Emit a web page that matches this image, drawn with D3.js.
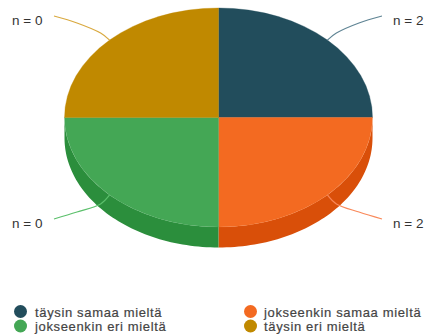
<!DOCTYPE html>
<html>
<head>
<meta charset="utf-8">
<script src="https://cdn.jsdelivr.net/npm/d3@7/dist/d3.min.js"></script>
<style>
html,body{margin:0;padding:0;background:#fff}
svg{display:block}
text{font-family:"Liberation Sans",Arial,sans-serif}
</style>
</head>
<body>
<script>
// Survey responses on a four-step agreement scale
const categories = ["täysin samaa mieltä", "jokseenkin samaa mieltä", "jokseenkin eri mieltä", "täysin eri mieltä"];
const sliceShares = [25, 25, 25, 25];
const counts = [2, 2, 0, 0];
const faceColors = ["#224d5c", "#f36a21", "#44a755", "#c08900"];
const wallColors = ["#163a47", "#d94f09", "#2b8e3c", "#a57500"];
const leaderColors = ["#5f8494", "#f9895a", "#5cc06c", "#d9a93f"];

const width = 425, height = 336;
const cx = 218.5, cy = 117.5, rx = 154, ry = 109.5, depth = 20.5;

const svg = d3.select("body").append("svg").attr("width", width).attr("height", height);

const slices = d3.pie().sort(null).value(d => d)(sliceShares);

// Projects an angle on the tilted disc into page coordinates
const px = a => cx + rx * Math.sin(a);
const py = a => cy - ry * Math.cos(a);

// Outer wall of the disc, visible only on the lower half
const wall = d3.area().x(px).y0(py).y1(a => py(a) + depth);
slices.forEach((s, i) => {
  const from = Math.max(s.startAngle, Math.PI / 2);
  const to = Math.min(s.endAngle, Math.PI * 1.5);
  if (from >= to) return;
  const steps = d3.range(0, 61).map(k => from + (to - from) * k / 60);
  svg.append("path").attr("d", wall(steps)).attr("fill", wallColors[i]);
});

// Top face: a circular pie squashed vertically, with a hairline stroke to close the seams
const arc = d3.arc().innerRadius(0).outerRadius(rx);
svg.append("g")
  .attr("transform", `translate(${cx},${cy}) scale(1,${ry / rx})`)
  .selectAll("path").data(slices).join("path")
  .attr("d", arc)
  .attr("fill", (d, i) => faceColors[i])
  .attr("stroke", (d, i) => faceColors[i])
  .attr("stroke-width", 0.4);

// Curved leaders from each slice to its count label
const side = [1, 1, -1, -1];
const rowY = [16, 219, 219, 16];
const leaderEndX = [382, 382, 54, 54];
const labelX = [393, 393, 12, 12];
const baselineY = [25, 228, 228, 25];
const leaderPath = d3.line().curve(d3.curveCatmullRom);
slices.forEach((s, i) => {
  const mid = (s.startAngle + s.endAngle) / 2;
  const x0 = px(mid), y0 = py(mid), dir = side[i], ly = rowY[i];
  const up = ly < cy;
  svg.append("path")
    .attr("d", leaderPath([
      [x0, y0],
      [x0 + dir * 9, y0 + (up ? -7 : 9)],
      [leaderEndX[i] - dir * 23, ly + (up ? 7 : -7)],
      [leaderEndX[i], ly]
    ]))
    .attr("fill", "none")
    .attr("stroke", leaderColors[i])
    .attr("stroke-width", 1.2);
  svg.append("text")
    .attr("x", labelX[i])
    .attr("y", baselineY[i])
    .attr("font-size", 13.5)
    .attr("fill", "#333")
    .text(`n = ${counts[i]}`);
});

// Two-column legend
const legendX = [20.5, 250.5], legendY = [311.5, 326];
const legendTextX = [35, 264];
const legendBaseline = [317, 331];
categories.forEach((label, k) => {
  const col = k % 2, row = Math.floor(k / 2);
  svg.append("circle")
    .attr("cx", legendX[col]).attr("cy", legendY[row]).attr("r", 6.5)
    .attr("fill", faceColors[k]);
  svg.append("text")
    .attr("x", legendTextX[col])
    .attr("y", legendBaseline[row])
    .attr("font-size", 13)
    .attr("letter-spacing", 0.65)
    .attr("fill", "#444")
    .attr("stroke", "#444")
    .attr("stroke-width", 0.2)
    .text(label);
});
</script>
</body>
</html>
